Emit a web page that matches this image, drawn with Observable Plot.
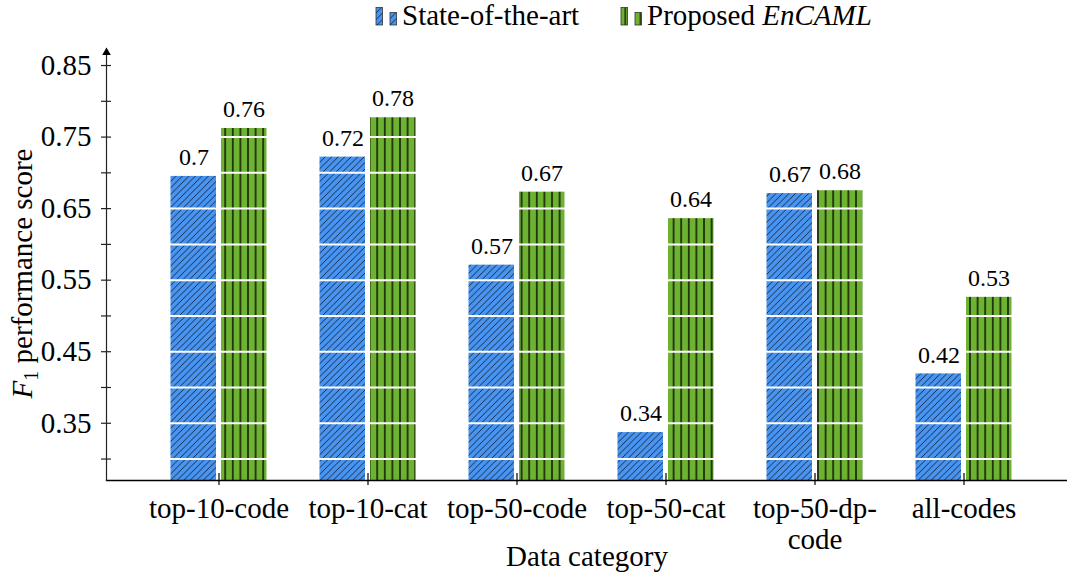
<!DOCTYPE html>
<html>
<head>
<meta charset="utf-8">
<script src="https://cdn.jsdelivr.net/npm/d3@7"></script>
<script src="https://cdn.jsdelivr.net/npm/@observablehq/plot@0.6"></script>
<style>
  body { margin: 0; background: #fff; font-family: Liberation Serif; }
  #legend { display: block; }
  #chart svg { display: block; }
</style>
</head>
<body>
<svg id="legend" width="1067" height="40"></svg>
<div id="chart"></div>
<script>
// ---- data ----
const categories = ["top-10-code", "top-10-cat", "top-50-code", "top-50-cat", "top-50-dp-\ncode", "all-codes"];
const stateOfTheArt = [0.695, 0.722, 0.571, 0.337, 0.671, 0.419];
const proposed      = [0.762, 0.777, 0.673, 0.636, 0.675, 0.526];
const stateLabels    = ["0.7", "0.72", "0.57", "0.34", "0.67", "0.42"];
const proposedLabels = ["0.76", "0.78", "0.67", "0.64", "0.68", "0.53"];
const seriesNames = ["State-of-the-art", "Proposed EnCAML"];
const yMajorTicks = [0.35, 0.45, 0.55, 0.65, 0.75, 0.85];
const yMinorTicks = [0.30, 0.40, 0.50, 0.60, 0.70, 0.80];
const gridLines = [0.30, 0.35, 0.40, 0.45, 0.50, 0.55, 0.60, 0.65, 0.70, 0.75, 0.80, 0.85];

const blue = "#4894f0";
const green = "#6eb232";
const font = "Liberation Serif";

const sota = categories.map((c, i) => ({category: c, value: stateOfTheArt[i], label: stateLabels[i]}));
const prop = categories.map((c, i) => ({category: c, value: proposed[i], label: proposedLabels[i]}));

const W = 1067, H = 535, ML = 106, MT = 10, MB = 95;

const chart = Plot.plot({
  width: W, height: H,
  marginLeft: ML, marginRight: 0, marginTop: MT, marginBottom: MB,
  style: {fontFamily: font, background: "white", color: "black"},
  x: {domain: categories, range: [143.5, 1037.5], padding: 0, axis: null},
  y: {domain: [0.27, 0.871], range: [H - MB, MT], axis: null},
  marks: [
    Plot.barY(sota, {x: "category", y1: 0.27, y2: "value", fill: "url(#hatchBlue)", insetLeft: 26.5, insetRight: 77}),
    Plot.barY(prop, {x: "category", y1: 0.27, y2: "value", fill: "url(#hatchGreen)", insetLeft: 77, insetRight: 26.5}),
    Plot.ruleY(gridLines, {stroke: "white", strokeWidth: 2}),
    Plot.frame({anchor: "bottom", stroke: "black", strokeWidth: 1.3}),
    Plot.frame({anchor: "left", stroke: "#222", strokeWidth: 1.2}),
    Plot.ruleY(yMajorTicks.concat(yMinorTicks), {stroke: "#222", strokeWidth: 1.2, insetRight: W - ML - 10, dx: -5}),
    Plot.ruleX(categories, {x: d => d, stroke: "black", strokeWidth: 1.2, insetTop: (H - MB - MT) - 12, dy: 5}),
    Plot.dot([0], {frameAnchor: "top-left", symbol: "triangle", r: 3.2, fill: "black", stroke: "none", dy: 2}),
    Plot.axisY({ticks: yMajorTicks, tickSize: 0, tickPadding: 15, tickFormat: d => d.toFixed(2), fontSize: 29, fontFamily: font, label: null}),
    Plot.axisX({domain: categories, tickSize: 0, tickPadding: 16, fontSize: 29, fontFamily: font, lineHeight: 1.05, label: null}),
    Plot.text(sota, {x: "category", y: "value", text: "label", dx: -25, dy: -19, fontSize: 24, fontFamily: font, fill: "black"}),
    Plot.text(prop, {x: "category", y: "value", text: "label", dx: 25, dy: -19, fontSize: 24, fontFamily: font, fill: "black"}),
    Plot.text(["Data category"], {frameAnchor: "bottom", dy: 85, fontSize: 29, fontFamily: font, fill: "black"}),
    Plot.text(["F1 performance score"], {frameAnchor: "left", textAnchor: "middle", dx: -84, dy: 8, rotate: -90, fontSize: 29, fontFamily: font, fill: "black"})
  ]
});

// patterns
const svg = d3.select(chart);
const defs = svg.insert("defs", ":first-child");
const pb = defs.append("pattern").attr("id", "hatchBlue").attr("patternUnits", "userSpaceOnUse").attr("width", 6.5).attr("height", 6.5);
pb.append("rect").attr("width", 6.5).attr("height", 6.5).attr("fill", blue);
pb.append("path").attr("d", "M-1,1 L1,-1 M0,6.5 L6.5,0 M5.5,7.5 L7.5,5.5").attr("stroke", "black").attr("stroke-width", 0.7);
const pg = defs.append("pattern").attr("id", "hatchGreen").attr("patternUnits", "userSpaceOnUse").attr("width", 7.6).attr("height", 10).attr("x", 1);
pg.append("rect").attr("width", 7.6).attr("height", 10).attr("fill", green);
pg.append("path").attr("d", "M3.8,0 L3.8,10").attr("stroke", "black").attr("stroke-width", 1.3);

// y title with italic F and subscript 1
svg.selectAll("text").filter(function() { return this.textContent === "F1 performance score"; }).each(function() {
  const t = d3.select(this);
  t.text("");
  t.append("tspan").attr("font-style", "italic").text("F");
  t.append("tspan").attr("font-size", 20).attr("dy", "0.3em").text("1");
  t.append("tspan").attr("dy", "-0.2em").text(" performance score");
});

document.getElementById("chart").appendChild(chart);

// legend
const lg = d3.select("#legend");
const ldefs = lg.append("defs");
const lb = ldefs.append("pattern").attr("id", "lgBlue").attr("patternUnits", "userSpaceOnUse").attr("width", 6.5).attr("height", 6.5);
lb.append("rect").attr("width", 6.5).attr("height", 6.5).attr("fill", blue);
lb.append("path").attr("d", "M-1,1 L1,-1 M0,6.5 L6.5,0 M5.5,7.5 L7.5,5.5").attr("stroke", "black").attr("stroke-width", 0.7);
const lgg = ldefs.append("pattern").attr("id", "lgGreen").attr("patternUnits", "userSpaceOnUse").attr("width", 7.6).attr("height", 10).attr("x", 0.5);
lgg.append("rect").attr("width", 7.6).attr("height", 10).attr("fill", green);
lgg.append("path").attr("d", "M3.8,0 L3.8,10").attr("stroke", "black").attr("stroke-width", 1.2);

const legendItems = [
  {name: seriesNames[0], fill: "url(#lgBlue)", x: 376},
  {name: seriesNames[1], fill: "url(#lgGreen)", x: 621}
];
legendItems.forEach((it, i) => {
  const g = lg.append("g").attr("transform", `translate(${it.x},0)`);
  g.append("rect").attr("x", 0).attr("y", 7.5).attr("width", 6.5).attr("height", 17.5).attr("fill", it.fill).attr("stroke", "#333").attr("stroke-width", 0.8);
  g.append("rect").attr("x", 14).attr("y", 12.5).attr("width", 6.5).attr("height", 12.5).attr("fill", it.fill).attr("stroke", "#333").attr("stroke-width", 0.8);
  const t = g.append("text").attr("x", 26).attr("y", 25).attr("font-family", font).attr("font-size", 29).attr("fill", "black");
  if (i === 0) {
    t.text(it.name);
  } else {
    t.append("tspan").text("Proposed ");
    t.append("tspan").attr("font-style", "italic").text("EnCAML");
  }
});
</script>
</body>
</html>
